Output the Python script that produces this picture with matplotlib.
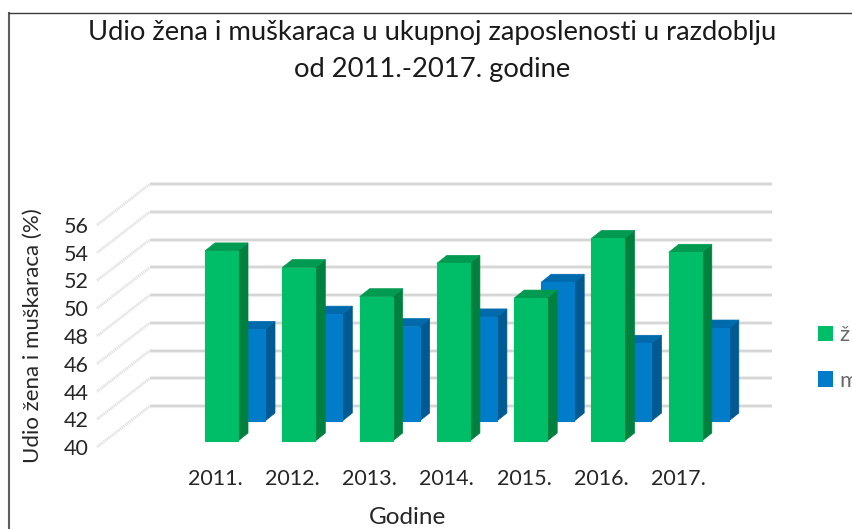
import matplotlib
matplotlib.use("Agg")
import matplotlib.pyplot as plt
from matplotlib.lines import Line2D
from matplotlib.patches import Polygon, Patch

years = ["2011.", "2012.", "2013.", "2014.", "2015.", "2016.", "2017."]
zene = [53.7, 52.5, 50.4, 52.8, 50.3, 54.6, 53.6]
muskarci = [46.6, 47.7, 46.8, 47.5, 50.0, 45.6, 46.7]
y_ticks = [40, 42, 44, 46, 48, 50, 52, 54, 56]
legend_labels = ["ž", "m"]
title = "Udio žena i muškaraca u ukupnoj zaposlenosti u razdoblju\nod 2011.-2017. godine"
xlabel = "Godine"
ylabel = "Udio žena i muškaraca (%)"

W, H = 853, 529
plt.rcParams["font.family"] = ["Lato", "DejaVu Sans"]
fig = plt.figure(figsize=(W / 100, H / 100), dpi=100, facecolor="white")

# axes = front plane of the 3D box
L, R, B, T = 97, 772, 447, 225
ax = fig.add_axes([L / W, 1 - B / H, (R - L) / W, (B - T) / H])
PX_Y = (56 - 40) / (B - T)
PX_X = 1 / 77.3
X0 = 215
ax.set_xlim((L - X0) * PX_X, (R - X0) * PX_X)
ax.set_ylim(40, 56)
ax.patch.set_visible(False)
for s in ax.spines.values():
    s.set_visible(False)
ax.tick_params(length=0)
ax.set_yticks(y_ticks)
ax.set_yticklabels([str(v) for v in y_ticks], fontsize=15.5, color="#262626")
ax.set_xticks(range(len(years)))
ax.set_xticklabels(years, fontsize=15.5, color="#262626")
ax.tick_params(axis="x", pad=16)
ax.tick_params(axis="y", pad=6)

# wall gridlines
DX_W, DY_W = 53, 41
x_l, x_r = ax.get_xlim()
for v in y_ticks:
    dx, dy = DX_W * PX_X, DY_W * PX_Y
    ax.plot([x_l, x_l + dx], [v, v + dy], color="#e2e2e2", lw=2.0, ls=(0, (0.5, 0.25)),
            clip_on=False, zorder=1)
    ax.plot([x_l + dx, x_r], [v + dy, v + dy], color="#ededed", lw=3.0, clip_on=False, zorder=1,
            solid_capstyle="butt")
    ax.plot([x_l + dx, x_r], [v + dy, v + dy], color="#d2d2d2", lw=1.2, clip_on=False, zorder=1.1,
            solid_capstyle="butt")


def bar3d(xs, vals, face, side, top, sx, sy, z):
    """Front face via ax.bar; side and top derived from the same value."""
    w = 33 * PX_X
    dx, dy = 10 * PX_X, 8 * PX_Y
    ox, oy = sx * PX_X, sy * PX_Y
    for i, v in zip(xs, vals):
        x0 = i + ox
        y0 = 40 + oy
        y1 = v + oy
        ax.bar(x0, y1 - y0, width=w, bottom=y0, align="edge", color=face, linewidth=0.8,
               edgecolor=face, clip_on=False, zorder=z + 0.02)
        ax.add_patch(Polygon([(x0 + w, y0), (x0 + w + dx, y0 + dy), (x0 + w + dx, y1 + dy), (x0 + w, y1)],
                             closed=True, fc=side, ec=side, lw=0.5, clip_on=False, zorder=z))
        ax.add_patch(Polygon([(x0, y1), (x0 + dx, y1 + dy), (x0 + w + dx, y1 + dy), (x0 + w, y1)],
                             closed=True, fc=top, ec=top, lw=0.5, clip_on=False, zorder=z))


pos = range(len(years))
bar3d(pos, muskarci, "#007cc8", "#005a92", "#006aad", 17, 26, 2)
bar3d(pos, zene, "#00bd68", "#00803f", "#009a50", -10, 6, 3)

fig.text(432 / W, 1 - 51 / H, title, ha="center", va="center", fontsize=19.7, color="#1a1a1a",
         linespacing=1.58)
fig.text(408 / W, 1 - 517 / H, xlabel, ha="center", va="center", fontsize=17.5, color="#262626")
fig.text(33 / W, 1 - 336 / H, ylabel, ha="center", va="center", rotation=90, fontsize=16, color="#262626")

handles = [Patch(fc="#00bd68", ec="none"), Patch(fc="#007cc8", ec="none")]
fig.legend(handles, legend_labels, loc="center left", bbox_to_anchor=(818 / W, 1 - 358 / H), frameon=False,
           fontsize=16, labelcolor="#6a6a6a", handlelength=0.68, handleheight=0.68, handletextpad=0.3,
           labelspacing=1.15, borderpad=0, borderaxespad=0)

# chart frame: only the left and top edges fall inside the picture
fx, fy = 8.5 / W, 1 - 12.5 / H
fig.add_artist(Line2D([fx, fx], [0, fy], transform=fig.transFigure, color="#5f5f5f", lw=1.5))
fig.add_artist(Line2D([fx, 1], [fy, fy], transform=fig.transFigure, color="#3a3a3a", lw=1.0))
fig.savefig("out.png", dpi=100, facecolor="white")
